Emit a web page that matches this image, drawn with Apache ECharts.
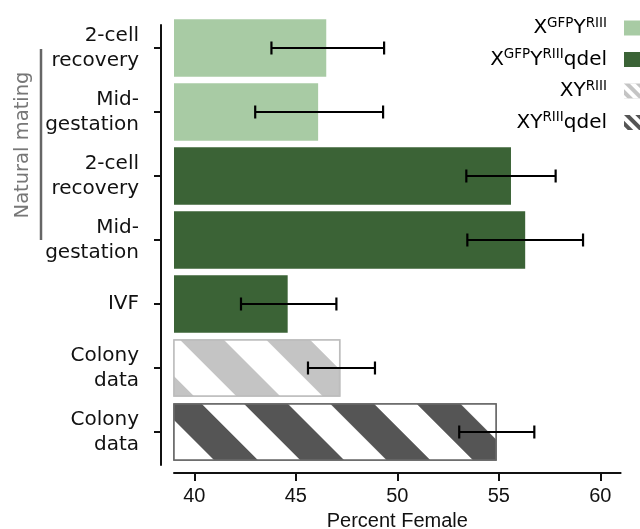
<!DOCTYPE html>
<html>
<head>
<meta charset="utf-8">
<script src="https://cdn.jsdelivr.net/npm/echarts@6/dist/echarts.min.js"></script>
<style>html,body{margin:0;padding:0;background:#fff}#c{width:640px;height:529px}</style>
</head>
<body>
<div id="c"></div>
<script>
const categoryKeys = ['c0','c1','c2','c3','c4','c5','c6'];
const categoryLabels = ['2-cell\nrecovery','Mid-\ngestation','2-cell\nrecovery','Mid-\ngestation','IVF','Colony\ndata','Colony\ndata'];
const seriesNames = ['XGFPYRIII','XGFPYRIIIqdel','XYRIII','XYRIIIqdel'];
const valuesGfp = [46.5, 46.1, '-', '-', '-', '-', '-'];
const valuesGfpQdel = ['-', '-', 55.6, 56.3, 44.6, '-', '-'];
const valuesXY = ['-', '-', '-', '-', '-', 47.2, '-'];
const valuesXYQdel = ['-', '-', '-', '-', '-', '-', 54.9];
const errLow = [43.8, 43.0, 53.4, 53.45, 42.3, 45.6, 53.05];
const errHigh = [49.35, 49.3, 57.8, 59.15, 47.0, 48.9, 56.75];
const xTicks = [40, 45, 50, 55, 60];

const legendRich = {
  'XGFPYRIII': '{m|X}{s|GFP}{m|Y}{s|RIII}',
  'XGFPYRIIIqdel': '{m|X}{s|GFP}{m|Y}{s|RIII}{m|qdel}',
  'XYRIII': '{m|XY}{s|RIII}',
  'XYRIIIqdel': '{m|XY}{s|RIII}{m|qdel}'
};

const lightGreen = '#a8cba4';
const darkGreen = '#3b6336';
const lightGray = '#c4c4c4';
const darkGray = '#555555';

const stripeDecal = (color) => ({
  symbol: 'rect', dashArrayX: [1, 0], dashArrayY: [21, 31, 9, 0], symbolSize: 1,
  rotation: Math.PI / 4, color: color
});
const smallDecal = (color) => ({
  symbol: 'rect', dashArrayX: [1, 0], dashArrayY: [4, 4], symbolSize: 1,
  rotation: Math.PI / 4, color: color
});

const chart = echarts.init(document.getElementById('c'), null, {renderer: 'canvas'});
const barW = 57.6;
const font = 'DejaVu Sans';

chart.setOption({
  animation: false,
  backgroundColor: '#fff',
  grid: [
    {left: 174, right: 19.4, top: 16, height: 448, outerBoundsMode: 'none', containLabel: false},
    {left: 174, right: 19.4, top: 25, height: 440, outerBoundsMode: 'none', containLabel: false}
  ],
  legend: {
    orient: 'vertical', align: 'right', right: -5, top: 11,
    itemWidth: 16, itemHeight: 15, itemGap: 9.5, icon: 'rect',
    data: [
      {name: seriesNames[0]},
      {name: seriesNames[1]},
      {name: seriesNames[2], itemStyle: {decal: smallDecal('#ffffff'), borderWidth: 0}},
      {name: seriesNames[3], itemStyle: {decal: smallDecal('#ffffff'), borderWidth: 0}}
    ],
    formatter: (name) => legendRich[name],
    textStyle: {
      fontFamily: font, fontSize: 20, color: '#000', padding: [0, 12, 0, 0],
      rich: {
        m: {fontFamily: font, fontSize: 20, lineHeight: 24, color: '#000'},
        s: {fontFamily: font, fontSize: 13.5, lineHeight: 13, verticalAlign: 'top', color: '#000'}
      }
    }
  },
  xAxis: [
    {
      type: 'value', gridIndex: 0, min: 39, max: 61, offset: 9,
      splitLine: {show: false},
      axisLine: {show: true, onZero: false, lineStyle: {color: '#111', width: 2}},
      axisTick: {show: true, length: 8, lineStyle: {color: '#111', width: 2}, customValues: xTicks},
      axisLabel: {customValues: xTicks, fontFamily: 'Liberation Sans', fontSize: 20, color: '#111', margin: 13},
      name: 'Percent Female', nameLocation: 'middle', nameGap: 38,
      nameTextStyle: {fontFamily: 'Liberation Sans', fontSize: 20, color: '#111'}
    },
    {type: 'value', gridIndex: 1, show: false}
  ],
  yAxis: [
    {
      type: 'category', gridIndex: 0, data: categoryKeys, inverse: true, offset: 13,
      axisLine: {show: false},
      axisTick: {show: true, length: 7, alignWithLabel: true, lineStyle: {color: '#111', width: 2}},
      axisLabel: {
        formatter: (v, i) => categoryLabels[i], fontFamily: font, fontSize: 20,
        lineHeight: 25, color: '#111', margin: 22, align: 'right'
      }
    },
    {
      type: 'value', gridIndex: 1, offset: 13,
      axisLine: {show: true, onZero: false, lineStyle: {color: '#111', width: 2}},
      axisTick: {show: false}, axisLabel: {show: false}, splitLine: {show: false}
    }
  ],
  graphic: [
    {type: 'line', shape: {x1: 41, y1: 49, x2: 41, y2: 240}, style: {stroke: '#666', lineWidth: 2.5}},
    {type: 'text', x: 23, y: 145, rotation: Math.PI / 2,
     style: {text: 'Natural mating', fill: '#777', font: '19.5px "DejaVu Sans"', textAlign: 'center', textVerticalAlign: 'middle'}}
  ],
  series: [
    {name: seriesNames[0], type: 'bar', data: valuesGfp, barWidth: barW, barGap: '-100%',
     itemStyle: {color: lightGreen}},
    {name: seriesNames[1], type: 'bar', data: valuesGfpQdel, barWidth: barW, barGap: '-100%',
     itemStyle: {color: darkGreen}},
    {name: seriesNames[2], type: 'bar', data: valuesXY, barWidth: barW, barGap: '-100%',
     itemStyle: {color: lightGray, borderColor: '#bdbdbd', borderWidth: 1.5, decal: stripeDecal('#ffffff')}},
    {name: seriesNames[3], type: 'bar', data: valuesXYQdel, barWidth: barW, barGap: '-100%',
     itemStyle: {color: darkGray, borderColor: '#666666', borderWidth: 1.5, decal: stripeDecal('#ffffff')}},
    {
      type: 'custom', name: 'err', z: 10,
      data: errLow.map((lo, i) => [lo, errHigh[i], i]),
      encode: {x: [0, 1], y: 2},
      renderItem: (params, api) => {
        const y = api.value(2);
        const p1 = api.coord([api.value(0), y]);
        const p2 = api.coord([api.value(1), y]);
        const h = 6.5;
        const st = {stroke: '#000', lineWidth: 2.2};
        return {type: 'group', children: [
          {type: 'line', shape: {x1: p1[0], y1: p1[1], x2: p2[0], y2: p2[1]}, style: st},
          {type: 'line', shape: {x1: p1[0], y1: p1[1] - h, x2: p1[0], y2: p1[1] + h}, style: st},
          {type: 'line', shape: {x1: p2[0], y1: p2[1] - h, x2: p2[0], y2: p2[1] + h}, style: st}
        ]};
      }
    }
  ]
});
</script>
</body>
</html>
